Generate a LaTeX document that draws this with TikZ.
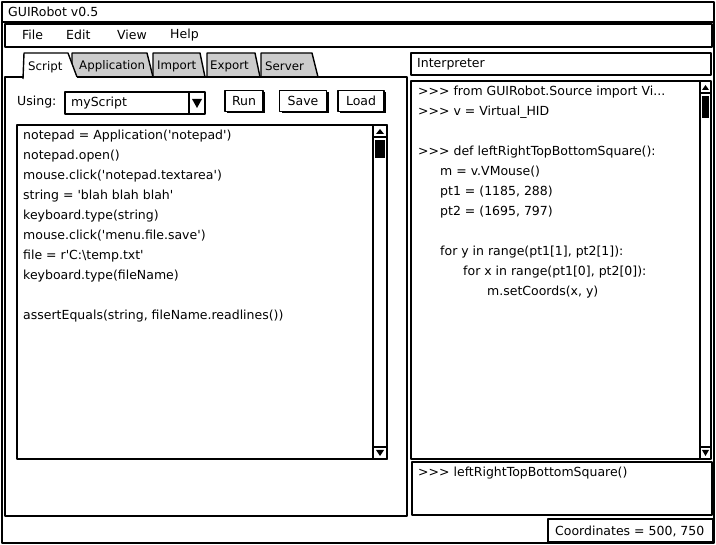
\documentclass[tikz,border=0pt]{standalone}
\usepackage{fontspec}
\setmainfont{DejaVu Sans}[Ligatures=TeXOff]
\usetikzlibrary{positioning,shadows}
\tikzset{
	frame/.style={draw, line width=1.4pt},
	txt/.style={anchor=west, inner sep=0pt, font=\fontsize{12.5}{14}\selectfont},
	tabtxt/.style={txt, font=\fontsize{11.8}{14}\selectfont},
	tabshape/.style={draw, line width=1.4pt, fill=gray!40},
	button/.style={draw, line width=1.4pt, fill=white, minimum height=21pt, inner sep=0pt,
			font=\fontsize{12.5}{14}\selectfont,
			drop shadow={shadow xshift=2pt, shadow yshift=-2pt, fill=black, opacity=1}},
	thumb/.style={fill=black}
}

\begin{document}
\begin{tikzpicture}[x=1pt, y=-1pt, line join=round]
	\useasboundingbox (0,0) rectangle (716,545);

	% window, title and menu
	\draw[frame] (2,2) rectangle (714,543);
	\draw[frame] (2,22) -- (714,22);
	\node[txt] (title) at (8,12) {GUIRobot v0.5};
	\draw[frame] (5,24) rectangle (712,47);
	\node[txt] (file) at (22,35) {File};
	\node[txt] (edit) at (66,35) {Edit};
	\node[txt] (view) at (117,35) {View};
	\node[txt] (help) at (170,35) {Help};

	% tabs
	\draw[tabshape] (261,77) -- (261,53) -- (312,53) -- (318,77);
	\draw[tabshape] (207,77) -- (207,53) -- (255,53) -- (260,77);
	\draw[tabshape] (153,77) -- (153,53) -- (200,53) -- (205,77);
	\draw[tabshape] (72,77) -- (72,53) -- (147,53) -- (153,77);
	\draw[frame] (23,77) -- (5,77) -- (5,516) -- (407,516) -- (407,77) -- (77,77);
	\draw[frame, fill=white] (23,79) -- (24,53) -- (68,53) -- (77,77);
	\node[tabtxt] (script) at (28,67) {Script};
	\node[tabtxt] (application) at (79,66) {Application};
	\node[tabtxt] (import) at (157,66) {Import};
	\node[tabtxt] (export) at (210,66) {Export};
	\node[tabtxt] (server) at (265,66) {Server};

	% script controls
	\node[txt] (using) at (17,102) {Using:};
	\draw[frame] (65,92) rectangle (205,114);
	\draw[frame] (189,92) -- (189,114);
	\node[txt] (myscript) at (71,103) {myScript};
	\fill (192,99) -- (202,99) -- (197,108) -- cycle;
	\node[button, minimum width=38pt] (run) at (244,101) {Run};
	\node[button, minimum width=47pt] (save) at (303,101) {Save};
	\node[button, minimum width=46pt] (load) at (361,101) {Load};

	% script editor
	\draw[frame] (17,125) rectangle (387,459);
	\draw[frame] (373,125) rectangle (387,459);
	\draw[frame] (373,137) -- (387,137) (373,447) -- (387,447);
	\fill (376,134) -- (384,134) -- (380,129) -- cycle;
	\fill (376,450) -- (384,450) -- (380,456) -- cycle;
	\fill[thumb] (375,140) rectangle (385,158);
	\foreach \line [count=\n] in {notepad = Application('notepad'), notepad.open(),
			mouse.click('notepad.textarea'), string = 'blah blah blah', keyboard.type(string),
			mouse.click('menu.file.save'), file = r'C:\textbackslash temp.txt', keyboard.type(fileName),
			{}, {assertEquals(string, fileName.readlines())}}
		\node[txt] (code\n) at (23,116+20*\n) {\line};

	% interpreter
	\draw[frame] (411,53) rectangle (711,75);
	\node[txt] (interpreter) at (417,64) {Interpreter};
	\draw[frame] (411,81) rectangle (711,459);
	\draw[frame] (700,81) -- (700,459) (700,93) -- (711,93) (700,447) -- (711,447);
	\fill (702,90) -- (709,90) -- (705.5,85) -- cycle;
	\fill (702,450) -- (709,450) -- (705.5,456) -- cycle;
	\fill[thumb] (702,96) rectangle (709,118);
	\node[txt] (in1) at (418,92) {>>> from GUIRobot.Source import Vi...};
	\node[txt] (in2) at (418,112) {>>> v = Virtual\_HID};
	\node[txt] (in3) at (418,152) {>>> def leftRightTopBottomSquare():};
	\node[txt] (in4) at (440,172) {m = v.VMouse()};
	\node[txt] (in5) at (440,192) {pt1 = (1185, 288)};
	\node[txt] (in6) at (440,212) {pt2 = (1695, 797)};
	\node[txt] (in7) at (440,252) {for y in range(pt1[1], pt2[1]):};
	\node[txt] (in8) at (463,272) {for x in range(pt1[0], pt2[0]):};
	\node[txt] (in9) at (487,292) {m.setCoords(x, y)};

	% input line and status bar
	\draw[frame] (412,462) rectangle (712,515);
	\node[txt] (prompt) at (418,473) {>>> leftRightTopBottomSquare()};
	\draw[frame] (548,519) rectangle (713,542);
	\node[txt] (coords) at (555,531) {Coordinates = 500, 750};
\end{tikzpicture}
\end{document}
